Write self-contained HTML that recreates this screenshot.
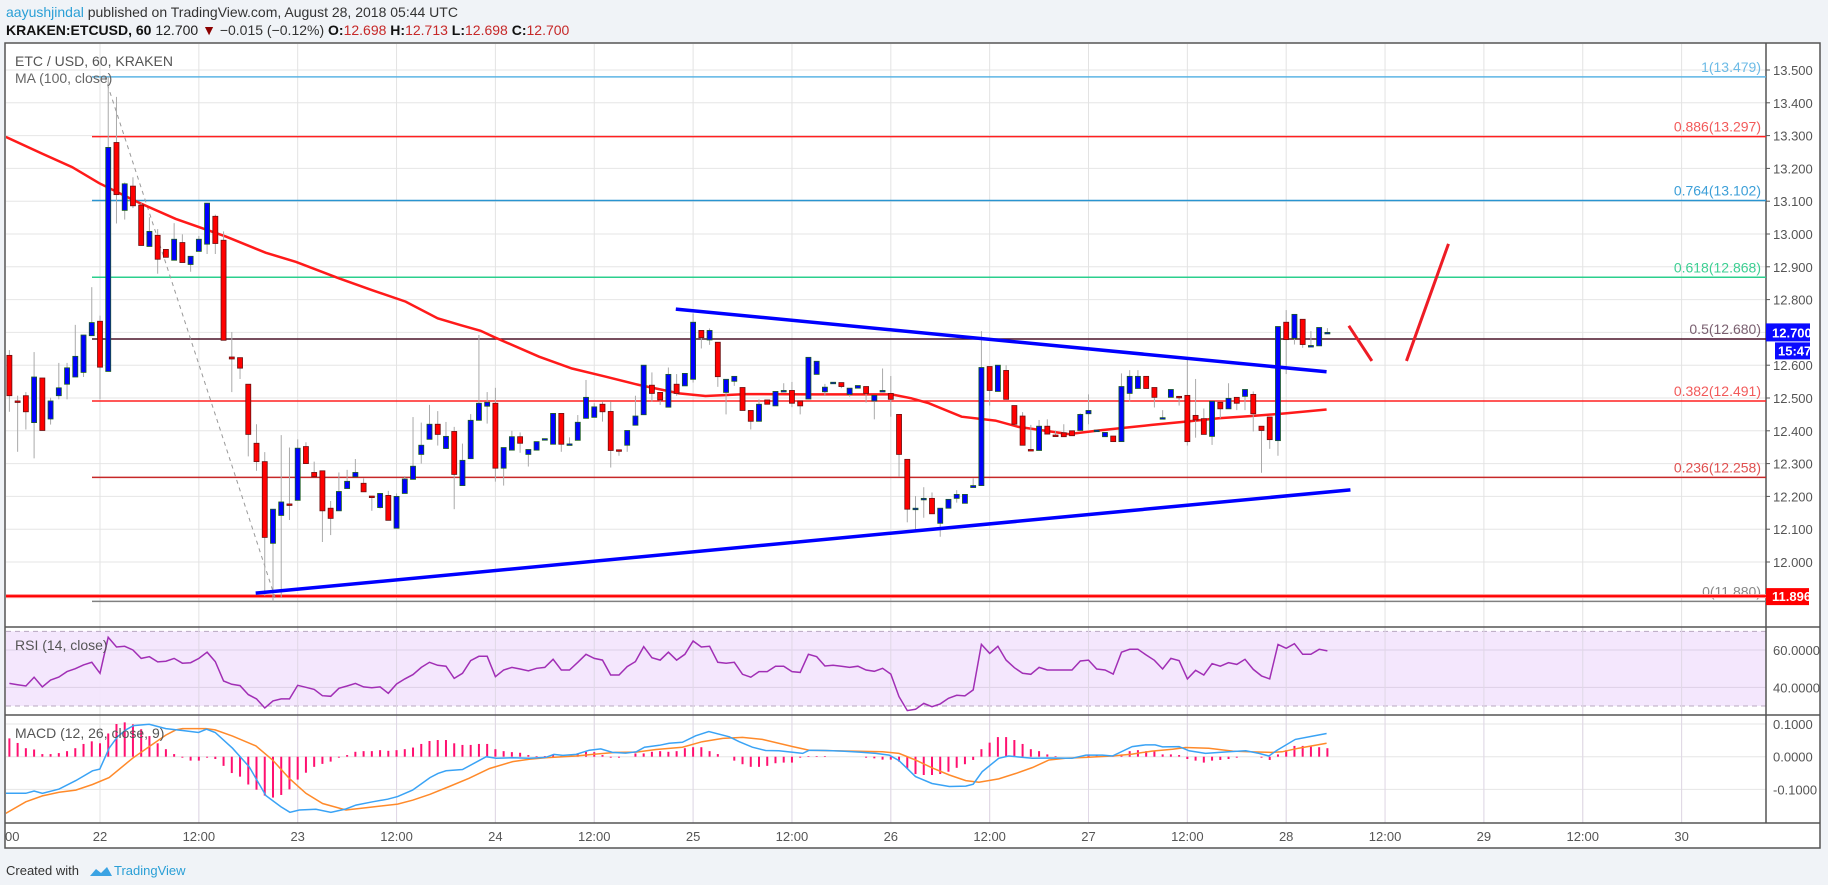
<!DOCTYPE html>
<html><head><meta charset="utf-8"><style>
body{margin:0;background:#f0f3f7;font-family:"Liberation Sans",sans-serif;}
svg{display:block}
</style></head><body>
<svg id="chart" width="1828" height="885" viewBox="0 0 1828 885" xmlns="http://www.w3.org/2000/svg">
<rect x="0" y="0" width="1828" height="885" fill="#f0f3f7"/>
<g font-size="14">
<text x="6" y="17"><tspan fill="#2a9fd6">aayushjindal</tspan><tspan fill="#333"> published on TradingView.com, August 28, 2018 05:44 UTC</tspan></text>
<text x="6" y="35"><tspan font-weight="bold" fill="#111">KRAKEN:ETCUSD, 60</tspan><tspan fill="#222"> 12.700 </tspan><tspan fill="#8b0000">▼</tspan><tspan fill="#333"> −0.015 (−0.12%) </tspan><tspan font-weight="bold" fill="#111">O:</tspan><tspan fill="#c62828">12.698 </tspan><tspan font-weight="bold" fill="#111">H:</tspan><tspan fill="#c62828">12.713 </tspan><tspan font-weight="bold" fill="#111">L:</tspan><tspan fill="#c62828">12.698 </tspan><tspan font-weight="bold" fill="#111">C:</tspan><tspan fill="#c62828">12.700</tspan></text>
</g>
<rect x="5" y="43" width="1815" height="805" fill="#fff" stroke="#555" stroke-width="1.5"/>
<g id="grid"></g>
<g id="panes"></g>
<g id="main"></g>
<g id="rsi"></g>
<g id="macd"></g>
<g id="axes"></g>
<g>
<text x="6" y="875" font-size="13" fill="#333">Created with</text>
<path d="M90 876 l6 -7 l5 4 l6 -6 l5 9 z" fill="#3ba3e3"/>
<text x="114" y="875" font-size="13" fill="#2a9fd6">TradingView</text>
</g>
</svg>
<script>
// ---- data ----
const opens=[12.630,12.491,12.507,12.425,12.561,12.436,12.507,12.542,12.564,12.578,12.690,12.734,12.581,13.279,13.072,13.146,13.088,12.962,12.996,12.953,12.920,12.974,12.907,12.947,12.969,13.054,12.981,12.625,12.623,12.542,12.362,12.306,12.057,12.142,12.177,12.188,12.352,12.273,12.278,12.164,12.156,12.224,12.260,12.240,12.201,12.166,12.203,12.103,12.209,12.252,12.328,12.374,12.420,12.346,12.398,12.233,12.315,12.432,12.475,12.484,12.286,12.341,12.382,12.328,12.341,12.375,12.359,12.453,12.359,12.371,12.438,12.441,12.481,12.459,12.342,12.356,12.417,12.449,12.539,12.517,12.472,12.542,12.537,12.557,12.706,12.677,12.670,12.517,12.551,12.532,12.462,12.429,12.494,12.476,12.522,12.523,12.491,12.497,12.572,12.519,12.547,12.547,12.511,12.530,12.535,12.491,12.522,12.514,12.450,12.313,12.163,12.190,12.194,12.118,12.164,12.194,12.179,12.227,12.233,12.596,12.520,12.584,12.477,12.445,12.343,12.340,12.414,12.387,12.394,12.400,12.401,12.452,12.401,12.382,12.384,12.367,12.514,12.529,12.566,12.532,12.439,12.502,12.505,12.508,12.447,12.437,12.383,12.487,12.467,12.502,12.505,12.511,12.414,12.442,12.370,12.731,12.682,12.740,12.659,12.659,12.698];
const highs=[12.646,12.507,12.518,12.640,12.561,12.501,12.607,12.607,12.723,12.692,12.838,12.751,13.479,13.418,13.157,13.173,13.095,13.051,13.015,12.953,13.033,12.999,12.932,12.994,13.094,13.059,13.008,12.701,12.623,12.542,12.420,12.335,12.161,12.387,12.349,12.374,12.365,12.306,12.278,12.186,12.273,12.281,12.314,12.255,12.201,12.209,12.217,12.209,12.262,12.442,12.425,12.479,12.460,12.427,12.412,12.361,12.451,12.692,12.518,12.531,12.349,12.400,12.395,12.343,12.367,12.375,12.453,12.453,12.380,12.448,12.555,12.484,12.489,12.489,12.342,12.401,12.507,12.600,12.578,12.517,12.593,12.573,12.575,12.758,12.706,12.712,12.670,12.557,12.566,12.532,12.462,12.496,12.494,12.520,12.545,12.549,12.491,12.624,12.612,12.543,12.547,12.547,12.530,12.538,12.535,12.508,12.590,12.567,12.450,12.313,12.201,12.228,12.212,12.164,12.191,12.219,12.206,12.255,12.704,12.596,12.600,12.600,12.477,12.457,12.418,12.433,12.435,12.401,12.420,12.400,12.453,12.511,12.401,12.395,12.384,12.575,12.585,12.585,12.566,12.532,12.463,12.526,12.505,12.616,12.558,12.468,12.490,12.487,12.545,12.502,12.526,12.520,12.414,12.442,12.718,12.768,12.755,12.740,12.704,12.715,12.713];
const lows=[12.458,12.336,12.404,12.316,12.401,12.419,12.496,12.496,12.564,12.564,12.690,12.496,12.581,13.032,13.044,13.079,12.965,12.962,12.879,12.929,12.920,12.913,12.885,12.947,12.939,12.939,12.676,12.518,12.558,12.322,12.278,11.897,11.880,11.892,12.128,12.188,12.300,12.260,12.061,12.082,12.156,12.224,12.260,12.214,12.156,12.163,12.127,12.103,12.209,12.252,12.300,12.374,12.355,12.346,12.161,12.233,12.315,12.432,12.422,12.245,12.233,12.341,12.333,12.291,12.341,12.375,12.359,12.336,12.359,12.371,12.438,12.441,12.428,12.288,12.324,12.336,12.417,12.449,12.489,12.479,12.472,12.507,12.537,12.547,12.651,12.662,12.534,12.450,12.537,12.462,12.404,12.429,12.481,12.476,12.522,12.472,12.450,12.497,12.572,12.506,12.547,12.530,12.504,12.530,12.486,12.435,12.522,12.443,12.260,12.121,12.099,12.135,12.147,12.077,12.164,12.181,12.179,12.227,12.233,12.477,12.520,12.496,12.420,12.356,12.342,12.340,12.390,12.384,12.382,12.385,12.401,12.420,12.401,12.382,12.367,12.367,12.489,12.529,12.529,12.471,12.439,12.502,12.477,12.355,12.379,12.389,12.357,12.438,12.467,12.463,12.463,12.398,12.272,12.345,12.324,12.573,12.663,12.653,12.659,12.659,12.698];
const closes=[12.507,12.490,12.458,12.564,12.401,12.491,12.531,12.592,12.627,12.692,12.730,12.594,13.264,13.120,13.153,13.086,12.965,13.008,12.923,12.929,12.984,12.913,12.932,12.984,13.094,12.971,12.676,12.619,12.591,12.389,12.306,12.075,12.161,12.183,12.176,12.347,12.300,12.260,12.156,12.133,12.215,12.246,12.273,12.214,12.200,12.209,12.127,12.200,12.253,12.292,12.356,12.420,12.389,12.383,12.267,12.310,12.432,12.484,12.487,12.286,12.349,12.382,12.362,12.343,12.367,12.376,12.453,12.359,12.360,12.426,12.502,12.473,12.458,12.340,12.341,12.401,12.445,12.600,12.514,12.494,12.572,12.514,12.575,12.731,12.684,12.706,12.565,12.557,12.566,12.462,12.429,12.481,12.481,12.520,12.523,12.484,12.476,12.624,12.612,12.533,12.548,12.535,12.530,12.538,12.514,12.508,12.523,12.496,12.328,12.161,12.164,12.194,12.147,12.164,12.191,12.206,12.206,12.233,12.593,12.523,12.600,12.496,12.420,12.356,12.342,12.414,12.390,12.384,12.382,12.385,12.450,12.462,12.402,12.395,12.367,12.535,12.566,12.566,12.529,12.502,12.440,12.526,12.502,12.367,12.433,12.389,12.490,12.467,12.499,12.484,12.526,12.452,12.401,12.373,12.718,12.678,12.755,12.663,12.660,12.715,12.700];
const maIdx=[0.56,4.97,8.61,11.9,16.75,21.2,27.3,32.1,35.8,41.0,45.0,49.1,53.0,55.8,58.2,59.9,65.3,69.3,73.4,77.4,82.3,85.5,90.4,98.4,108.1,110.5,112.6,116.6,120.7,123.5,129.6,133.6,139.7,143.8,147.8,151.8,155.9,160.9];
const maVal=[13.296,13.245,13.204,13.155,13.095,13.046,12.992,12.943,12.915,12.865,12.829,12.794,12.743,12.722,12.705,12.685,12.626,12.590,12.565,12.540,12.514,12.506,12.512,12.511,12.511,12.499,12.484,12.443,12.431,12.412,12.390,12.402,12.418,12.428,12.438,12.445,12.453,12.465];
const rsiVal=[42.1,41.4,40.7,45.4,40.2,43.9,45.5,48.4,50.0,52.0,53.4,47.5,66.8,61.6,62.0,60.0,55.5,56.4,53.6,54.0,55.5,52.9,53.2,55.5,58.8,53.8,43.4,41.6,40.9,36.1,33.8,28.9,32.7,33.8,33.8,41.1,40.0,38.9,35.5,35.2,39.5,40.7,42.1,40.2,39.8,40.2,36.8,41.8,44.5,46.8,50.7,53.4,51.8,51.3,44.8,47.5,54.3,56.6,56.6,45.7,49.3,50.7,49.8,48.8,50.2,50.7,55.0,49.3,49.3,53.4,57.7,55.5,54.6,46.6,46.6,51.1,53.8,61.8,55.9,54.6,58.8,54.6,57.7,64.8,61.6,62.0,53.4,52.9,53.4,47.0,45.4,48.4,48.4,51.3,51.3,48.4,48.0,57.7,56.4,51.4,51.8,51.3,50.7,51.3,49.3,48.6,50.2,47.1,35.0,27.5,28.2,31.4,29.6,31.1,34.1,35.7,35.4,38.6,63.0,58.2,62.0,54.6,50.5,47.5,47.0,50.7,49.3,49.3,49.3,49.3,54.1,54.6,49.8,49.3,47.1,58.8,60.4,60.4,57.3,54.5,49.8,55.5,54.3,44.5,49.1,46.6,52.7,51.3,53.2,52.3,55.0,49.6,46.1,44.5,63.0,60.9,63.4,57.7,57.7,60.4,59.5];
const histVal=[0.056,0.042,0.026,0.022,0.008,0.008,0.011,0.017,0.026,0.039,0.047,0.041,0.071,0.100,0.105,0.099,0.084,0.063,0.041,0.023,0.008,-0.003,-0.012,-0.012,-0.003,-0.007,-0.028,-0.050,-0.061,-0.085,-0.101,-0.119,-0.125,-0.117,-0.100,-0.070,-0.049,-0.031,-0.022,-0.015,-0.003,0.005,0.015,0.017,0.017,0.020,0.018,0.020,0.023,0.028,0.039,0.048,0.051,0.051,0.041,0.036,0.036,0.039,0.039,0.023,0.017,0.014,0.012,0.005,0.002,0.002,0.007,0.002,0.002,0.007,0.015,0.014,0.005,-0.003,-0.003,0,0.010,0.010,0.015,0.017,0.015,0.017,0.026,0.029,0.029,0.017,0.008,0,-0.012,-0.023,-0.031,-0.031,-0.028,-0.020,-0.018,-0.018,-0.003,0.002,0.002,0.002,0,0,0,0,-0.003,-0.005,-0.009,-0.009,-0.015,-0.036,-0.053,-0.056,-0.056,-0.053,-0.046,-0.034,-0.023,-0.010,0.023,0.043,0.060,0.060,0.051,0.039,0.023,0.017,0.007,0.002,0,0,0,0.007,0.005,0,0.002,0.007,0.017,0.020,0.017,0.017,0.007,0.007,0.005,-0.007,-0.012,-0.018,-0.012,-0.010,-0.007,-0.003,0,0,-0.003,-0.010,0.007,0.020,0.033,0.033,0.031,0.029,0.026];
const macdIdx=[0.56,2.99,4.0,5.01,7.04,9.06,11.09,11.98,13.11,14.12,15.13,16.07,17.97,19.99,22.02,23.96,24.93,25.98,28.09,30.11,32.14,33.96,35.05,36.19,38.21,40.03,41.85,43.07,45.09,46.91,48.13,49.95,52.06,53.03,54.0,56.0,58.9,60.1,62.1,64.1,66.1,67.1,68.2,69.8,71.4,72.8,74.2,75.8,77.1,78.1,79.9,81.1,82.7,84.3,85.9,88.4,89.6,91.2,92.8,94.4,97.3,98.1,100.1,102.1,104.2,106.2,107.8,109.0,111.0,113.0,115.1,117.1,118.0,119.1,121.1,122.3,125.2,127.2,130.0,131.7,133.7,134.9,137.3,138.9,140.1,141.0,143.0,144.2,146.2,149.0,151.1,152.7,153.9,154.9,157.1,159.2,160.9];
const macdVal=[-0.112,-0.112,-0.105,-0.112,-0.099,-0.073,-0.043,-0.038,0.026,0.061,0.082,0.095,0.099,0.086,0.080,0.074,0.084,0.074,0.026,-0.031,-0.119,-0.153,-0.170,-0.163,-0.161,-0.170,-0.160,-0.148,-0.138,-0.130,-0.122,-0.102,-0.064,-0.051,-0.043,-0.039,0,-0.005,-0.003,-0.005,-0.002,0.007,0.004,0.007,0.020,0.024,0.013,0.011,0.015,0.029,0.035,0.041,0.044,0.064,0.077,0.061,0.046,0.029,0.019,0.018,0.010,0.020,0.019,0.017,0.014,0.010,0.005,-0.012,-0.061,-0.082,-0.091,-0.090,-0.084,-0.046,-0.005,0.002,-0.005,-0.004,-0.005,0.005,0.005,0.002,0.031,0.036,0.036,0.030,0.031,0.018,0.010,0.015,0.018,0.010,0.002,0.020,0.053,0.063,0.071];
const sigIdx=[0.56,2.99,5.01,7.04,9.06,11.09,13.11,15.94,17.97,19.99,21.2,22.02,24.85,25.98,28.09,30.92,32.95,34.97,37.0,39.02,41.85,44.28,48.13,49.95,52.06,54.4,56.8,59.3,62.1,64.1,66.1,69.8,71.8,74.6,77.1,79.5,82.7,85.1,87.6,90.0,92.4,96.1,98.1,107.0,109.0,111.0,113.0,115.1,117.1,118.7,121.1,123.2,125.2,127.2,129.2,131.7,134.9,137.3,139.7,142.2,143.8,146.6,149.5,151.5,154.3,155.5,157.5,160.9];
const sigVal=[-0.173,-0.138,-0.120,-0.109,-0.102,-0.085,-0.064,-0.005,0.031,0.066,0.082,0.086,0.086,0.082,0.063,0.033,-0.010,-0.066,-0.112,-0.143,-0.163,-0.156,-0.145,-0.133,-0.115,-0.091,-0.066,-0.036,-0.015,-0.008,-0.003,0.002,0.007,0.013,0.014,0.022,0.029,0.046,0.056,0.059,0.053,0.031,0.020,0.015,0.010,-0.010,-0.034,-0.056,-0.073,-0.078,-0.068,-0.051,-0.033,-0.010,-0.005,-0.002,0.002,0.008,0.017,0.023,0.028,0.026,0.017,0.015,0.013,0.015,0.026,0.041];
const fibLevels=[1,0.886,0.764,0.618,0.5,0.382,0.236,0];
const fibPrices=[13.479,13.297,13.102,12.868,12.680,12.491,12.258,11.880];
const fibColors=["#5db5e4","#ff2020","#2a94d0","#2bcf8d","#4a1428","#ff2020","#c62828","#808080"];
const fibLabelColors=["#6cbbe6","#f25a5a","#3c9fd8","#3dcf93","#7a6070","#f25a5a","#e05050","#888888"];
const priceTicks=[13.5,13.4,13.3,13.2,13.1,13.0,12.9,12.8,12.6,12.5,12.4,12.3,12.2,12.1,12.0];
const timeTickHours=[12,24,36,48,60,72,84,96,108,120,132,144,156,168,180,192];
const timeTickLabels=["12:00","23","12:00","24","12:00","25","12:00","26","12:00","27","12:00","28","12:00","29","12:00","30"];
const rsiTicks=[60,40];
const macdTicks=[0.1,0,-0.1];
const upperTrend=[[81.9,12.771],[160.9,12.580]];
const lowerTrend=[[30.9,11.905],[163.8,12.220]];
const arrowDown=[[163.6,12.72],[166.4,12.613]];
const arrowUp=[[170.6,12.613],[175.7,12.97]];
const lastPrice=12.700, supportPrice=11.896;

// ---- scales ----
const L=6,R=1766,MT=44,MB=627,RT=627,RB=715,CT=715,CB=823;
const xH=h=>100+h*8.2375;          // hours from Aug 22 00:00
const xI=i=>xH(i-12);               // candle index -> x
const yP=p=>70+(13.5-p)*328;
const yR=r=>650-(r-60)*1.866;
const yM=m=>756.7-m*327;
const NS="http://www.w3.org/2000/svg";
function mk(parent,tag,attrs,name,inter){const e=document.createElementNS(NS,tag);for(const k in attrs)e.setAttribute(k,attrs[k]);


parent.appendChild(e);return e;}
const svg=document.getElementById('chart');
const defs=document.createElementNS(NS,'defs');
defs.innerHTML='<clipPath id="cm"><rect x="6" y="44" width="1760" height="583"/></clipPath><clipPath id="cr"><rect x="6" y="628" width="1760" height="87"/></clipPath><clipPath id="cc"><rect x="6" y="716" width="1760" height="107"/></clipPath>';
svg.insertBefore(defs,svg.firstChild);
const grid=document.getElementById('grid'),panes=document.getElementById('panes'),main=document.getElementById('main'),rsiG=document.getElementById('rsi'),macdG=document.getElementById('macd'),axes=document.getElementById('axes');
main.setAttribute('clip-path','url(#cm)');rsiG.setAttribute('clip-path','url(#cr)');macdG.setAttribute('clip-path','url(#cc)');

// grid
for(let p=11.9;p<=13.55;p+=0.1){const y=yP(p);if(y>MT&&y<MB)mk(grid,'line',{x1:L,x2:R,y1:y,y2:y,stroke:'#e6e6e6'},'price-gridline',false);}
timeTickHours.forEach(h=>{mk(grid,'line',{x1:xH(h),x2:xH(h),y1:MT,y2:CB,stroke:'#e3e3e3'},'time-gridline',false);});
mk(grid,'line',{x1:xH(0),x2:xH(0),y1:MT,y2:CB,stroke:'#e3e3e3'},'time-gridline',false);
// RSI band
mk(panes,'rect',{x:L,y:yR(70),width:R-L,height:yR(30)-yR(70),fill:'#f3e4fd',opacity:0.9},'rsi-band',false);
mk(panes,'line',{x1:L,x2:R,y1:yR(70),y2:yR(70),stroke:'#b9a8c0','stroke-dasharray':'5,4'},'rsi-upper-band',false);
mk(panes,'line',{x1:L,x2:R,y1:yR(30),y2:yR(30),stroke:'#b9a8c0','stroke-dasharray':'5,4'},'rsi-lower-band',false);
rsiTicks.forEach(r=>mk(panes,'line',{x1:L,x2:R,y1:yR(r),y2:yR(r),stroke:'#ddd0e6'},'rsi-gridline',false));
macdTicks.forEach(m=>mk(panes,'line',{x1:L,x2:R,y1:yM(m),y2:yM(m),stroke:'#e6e6e6'},'macd-gridline',false));
timeTickHours.forEach(h=>mk(panes,'line',{x1:xH(h),x2:xH(h),y1:RT,y2:CB,stroke:'#e0d8e6'},'time-gridline-pane',false));
// separators
[[MB],[RB],[CB]].forEach(a=>mk(panes,'line',{x1:5,x2:1820,y1:a[0],y2:a[0],stroke:'#555','stroke-width':1.5},'pane-separator',false));
mk(panes,'line',{x1:R,x2:R,y1:43,y2:CB,stroke:'#555','stroke-width':1.5},'price-axis-border',false);

// fib levels
fibPrices.forEach((p,k)=>{const y=yP(p);mk(main,'line',{x1:92,x2:R,y1:y,y2:y,stroke:fibColors[k],'stroke-width':1.5},'fib-level-line',false);
const t=mk(main,'text',{x:1761,y:y-5,'text-anchor':'end','font-size':14,fill:fibLabelColors[k]},'fib-level-label',false);t.textContent=fibLevels[k]+'('+p.toFixed(3)+')';});
// support line
mk(main,'line',{x1:L,x2:R,y1:yP(supportPrice),y2:yP(supportPrice),stroke:'#ff9090','stroke-width':4},'support-line-halo',false);
mk(main,'line',{x1:L,x2:R,y1:yP(supportPrice),y2:yP(supportPrice),stroke:'#ff0000','stroke-width':2},'support-line',true);
// fib dashed trend
mk(main,'line',{x1:xI(12.6),y1:yP(13.479),x2:xI(33.4),y2:yP(11.88),stroke:'#999','stroke-dasharray':'4,4'},'fib-trend-line',false);
// MA
mk(main,'path',{d:maIdx.map((v,k)=>(k?'L':'M')+xI(v).toFixed(1)+' '+yP(maVal[k]).toFixed(1)).join(' '),fill:'none',stroke:'#ff1a1a','stroke-width':2.5},'ma-100-line',false);
// candles
for(let k=0;k<opens.length;k++){const i=k+1,x=xI(i),o=opens[k],c=closes[k],up=c>=o;
mk(main,'line',{x1:x,x2:x,y1:yP(highs[k]),y2:yP(lows[k]),stroke:'#aaa','stroke-width':1},'candle-wick',false);
const t=yP(Math.max(o,c)),b=yP(Math.min(o,c));
mk(main,'rect',{x:x-2.5,y:t,width:5,height:Math.max(1.5,b-t),fill:up?'#0000ff':'#ff0000',stroke:up?'#1b5e20':'#6b1010','stroke-width':0.8},'candle-body',true);}
// trendlines
mk(main,'line',{x1:xI(upperTrend[0][0]),y1:yP(upperTrend[0][1]),x2:xI(upperTrend[1][0]),y2:yP(upperTrend[1][1]),stroke:'#0000ff','stroke-width':3.5},'upper-trendline',true);
mk(main,'line',{x1:xI(lowerTrend[0][0]),y1:yP(lowerTrend[0][1]),x2:xI(lowerTrend[1][0]),y2:yP(lowerTrend[1][1]),stroke:'#0000ff','stroke-width':3.5},'lower-trendline',true);
mk(main,'line',{x1:xI(arrowDown[0][0]),y1:yP(arrowDown[0][1]),x2:xI(arrowDown[1][0]),y2:yP(arrowDown[1][1]),stroke:'#ee1c25','stroke-width':3},'projection-down',true);
mk(main,'line',{x1:xI(arrowUp[0][0]),y1:yP(arrowUp[0][1]),x2:xI(arrowUp[1][0]),y2:yP(arrowUp[1][1]),stroke:'#ee1c25','stroke-width':3},'projection-up',true);
// legends
let t=mk(main,'text',{x:15,y:66,'font-size':14,fill:'#555'},'symbol-legend',false);t.textContent='ETC / USD, 60, KRAKEN';
t=mk(main,'text',{x:15,y:83,'font-size':14,fill:'#666'},'ma-legend',false);t.textContent='MA (100, close)';
// RSI
mk(rsiG,'path',{d:rsiVal.map((v,k)=>(k?'L':'M')+xI(k+1).toFixed(1)+' '+yR(v).toFixed(1)).join(' '),fill:'none',stroke:'#a12fb5','stroke-width':1.5},'rsi-line',false);
t=mk(rsiG,'text',{x:15,y:650,'font-size':14,fill:'#555'},'rsi-legend',false);t.textContent='RSI (14, close)';
// MACD
histVal.forEach((v,k)=>mk(macdG,'line',{x1:xI(k+1),x2:xI(k+1),y1:yM(0),y2:yM(v),stroke:'#ff1070','stroke-width':2},'macd-histogram-bar',false));
mk(macdG,'path',{d:sigIdx.map((v,k)=>(k?'L':'M')+xI(v).toFixed(1)+' '+yM(sigVal[k]).toFixed(1)).join(' '),fill:'none',stroke:'#ff8a2a','stroke-width':1.5},'macd-signal-line',false);
mk(macdG,'path',{d:macdIdx.map((v,k)=>(k?'L':'M')+xI(v).toFixed(1)+' '+yM(macdVal[k]).toFixed(1)).join(' '),fill:'none',stroke:'#3aa3f5','stroke-width':1.5},'macd-line',false);
t=mk(macdG,'text',{x:15,y:738,'font-size':14,fill:'#555'},'macd-legend',false);t.textContent='MACD (12, 26, close, 9)';
// price axis
priceTicks.forEach(p=>{const y=yP(p);mk(axes,'line',{x1:R,x2:R+4,y1:y,y2:y,stroke:'#555'},'price-tick',false);
const e=mk(axes,'text',{x:1773,y:y+5,'font-size':13,fill:'#555'},'price-tick-label',false);e.textContent=p.toFixed(3);});
rsiTicks.forEach(r=>{const e=mk(axes,'text',{x:1773,y:yR(r)+5,'font-size':13,fill:'#555'},'rsi-tick-label',false);e.textContent=r.toFixed(4);});
macdTicks.forEach(m=>{const e=mk(axes,'text',{x:1773,y:yM(m)+5,'font-size':13,fill:'#555'},'macd-tick-label',false);e.textContent=m.toFixed(4);});
// price labels
let y0=yP(lastPrice);
mk(axes,'rect',{x:R,y:y0-9,width:44,height:18,fill:'#0a0aff'},'last-price-box',false);
t=mk(axes,'text',{x:1772,y:y0+5,'font-size':13,'font-weight':'bold',fill:'#fff'},'last-price-label',false);t.textContent=lastPrice.toFixed(3);
mk(axes,'rect',{x:1775,y:y0+10,width:35,height:17,fill:'#0a0aff'},'countdown-box',false);
t=mk(axes,'text',{x:1778,y:y0+23,'font-size':13,'font-weight':'bold',fill:'#fff'},'countdown-label',false);t.textContent='15:47';
y0=yP(supportPrice);
mk(axes,'rect',{x:R,y:y0-8,width:43,height:17,fill:'#ff0000'},'support-price-box',false);
t=mk(axes,'text',{x:1772,y:y0+5,'font-size':13,'font-weight':'bold',fill:'#fff'},'support-price-label',false);t.textContent=supportPrice.toFixed(3);
// time axis
t=mk(axes,'text',{x:5,y:841,'font-size':13,fill:'#555'},'time-tick-label',false);t.textContent='00';
t=mk(axes,'text',{x:xH(0),y:841,'font-size':13,fill:'#555','text-anchor':'middle'},'time-tick-label',false);t.textContent='22';
timeTickHours.forEach((h,k)=>{const e=mk(axes,'text',{x:xH(h),y:841,'font-size':13,fill:'#555','text-anchor':'middle'},'time-tick-label',false);e.textContent=timeTickLabels[k];});
</script>
</body></html>
